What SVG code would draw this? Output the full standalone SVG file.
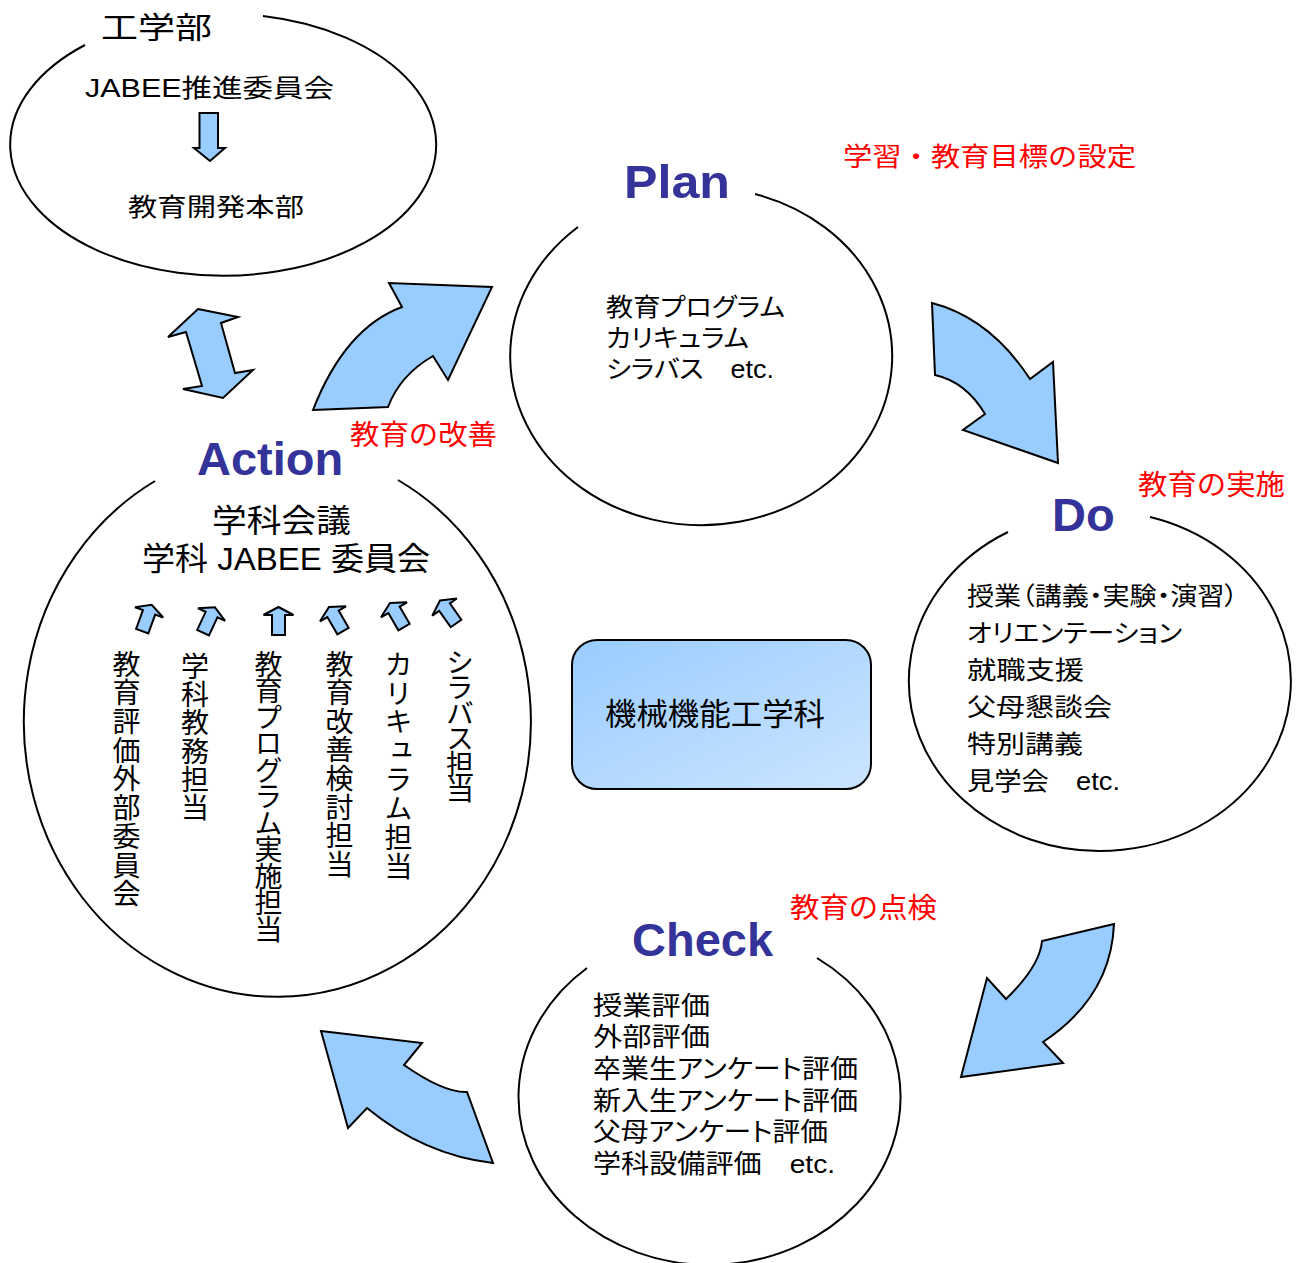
<svg xmlns="http://www.w3.org/2000/svg" width="1296" height="1263" viewBox="0 0 1296 1263">
<style>
.ell{fill:none;stroke:#000;stroke-width:2}
.arr{fill:#99ccff;stroke:#000;stroke-width:2;stroke-linejoin:miter}
.t{font-family:"Liberation Sans","Noto Sans CJK JP",sans-serif;fill:#000;font-feature-settings:"palt"}
.title{font-family:"Liberation Sans",sans-serif;font-weight:bold;fill:#333399;font-size:47px}
.red{fill:#ff0000;font-feature-settings:normal}
.v{font-family:"Noto Sans CJK JP",sans-serif;fill:#000;font-size:28px;writing-mode:vertical-rl}
</style>
<defs>
<linearGradient id="g" x1="0" y1="0" x2="1" y2="1">
<stop offset="0" stop-color="#99ccff"/>
<stop offset="1" stop-color="#cce5ff"/>
</linearGradient>
<path id="sa" d="M0,-14 L15,-6 L6.5,-6 L6.5,14 L-6.5,14 L-6.5,-6 L-15,-6 Z"/>
</defs>
<rect width="1296" height="1263" fill="#fff"/>

<g id="faculty">
<path class="ell" d="M85,45 A213,131 0 1 0 263,16"/>
<text class="t" x="101" y="38" font-size="30" textLength="111" lengthAdjust="spacingAndGlyphs">工学部</text>
<text class="t" x="85" y="97" font-size="25" textLength="249" lengthAdjust="spacingAndGlyphs">JABEE推進委員会</text>
<path class="arr" d="M199.5,113 L218,113 L218,148 L225,148 L210,161 L194,148 L199.5,148 Z"/>
<text class="t" x="128" y="216" font-size="25" textLength="176" lengthAdjust="spacingAndGlyphs">教育開発本部</text>
</g>

<g id="plan">
<path class="ell" d="M578,227 A191,169 0 1 0 755,194"/>
<text class="title" x="624" y="198" font-size="48" textLength="106" lengthAdjust="spacingAndGlyphs">Plan</text>
<text class="t red" x="843" y="166" font-size="26" textLength="293" lengthAdjust="spacingAndGlyphs">学習・教育目標の設定</text>
<text class="t" x="606" y="316" font-size="25" textLength="179" lengthAdjust="spacingAndGlyphs">教育プログラム</text>
<text class="t" x="606" y="347" font-size="25" textLength="143" lengthAdjust="spacingAndGlyphs">カリキュラム</text>
<text class="t" x="606" y="378" font-size="25" textLength="168" lengthAdjust="spacingAndGlyphs">シラバス　etc.</text>
</g>

<g id="do">
<path class="ell" d="M1008,532 A191,170 0 1 0 1150,517"/>
<text class="title" x="1052" y="531">Do</text>
<text class="t red" x="1138" y="495" font-size="28" textLength="147" lengthAdjust="spacingAndGlyphs">教育の実施</text>
<text class="t" x="967" y="605" font-size="25" textLength="271" lengthAdjust="spacingAndGlyphs">授業（講義・実験・演習）</text>
<text class="t" x="967" y="642" font-size="25" textLength="215" lengthAdjust="spacingAndGlyphs">オリエンテーション</text>
<text class="t" x="967" y="679" font-size="25" textLength="117" lengthAdjust="spacingAndGlyphs">就職支援</text>
<text class="t" x="967" y="716" font-size="25" textLength="145" lengthAdjust="spacingAndGlyphs">父母懇談会</text>
<text class="t" x="967" y="753" font-size="25" textLength="116" lengthAdjust="spacingAndGlyphs">特別講義</text>
<text class="t" x="967" y="790" font-size="25" textLength="153" lengthAdjust="spacingAndGlyphs">見学会　etc.</text>
</g>

<g id="check">
<path class="ell" d="M587,968 A191,168 0 1 0 817,958"/>
<text class="title" x="632" y="956">Check</text>
<text class="t red" x="790" y="918" font-size="28" textLength="147" lengthAdjust="spacingAndGlyphs">教育の点検</text>
<text class="t" x="593" y="1015" font-size="26" textLength="117" lengthAdjust="spacingAndGlyphs">授業評価</text>
<text class="t" x="593" y="1046" font-size="26" textLength="117" lengthAdjust="spacingAndGlyphs">外部評価</text>
<text class="t" x="593" y="1078" font-size="26" textLength="265" lengthAdjust="spacingAndGlyphs">卒業生アンケート評価</text>
<text class="t" x="593" y="1110" font-size="26" textLength="265" lengthAdjust="spacingAndGlyphs">新入生アンケート評価</text>
<text class="t" x="593" y="1141" font-size="26" textLength="235" lengthAdjust="spacingAndGlyphs">父母アンケート評価</text>
<text class="t" x="593" y="1173" font-size="26" textLength="242" lengthAdjust="spacingAndGlyphs">学科設備評価　etc.</text>
</g>

<g id="action">
<path class="ell" d="M155,481 A253.5,275 0 1 0 398,480"/>
<text class="title" x="197" y="475">Action</text>
<text class="t red" x="350" y="445" font-size="28" textLength="147" lengthAdjust="spacingAndGlyphs">教育の改善</text>
<text class="t" x="212" y="532" font-size="32" textLength="139" lengthAdjust="spacingAndGlyphs">学科会議</text>
<text class="t" x="142" y="570" font-size="32" textLength="288" lengthAdjust="spacingAndGlyphs">学科 JABEE 委員会</text>
<g class="arr">
<use href="#sa" transform="translate(147,618) rotate(20)"/>
<use href="#sa" transform="translate(209,620) rotate(25)"/>
<use href="#sa" transform="translate(278.5,621)"/>
<use href="#sa" transform="translate(336,619) rotate(-30)"/>
<use href="#sa" transform="translate(397,615) rotate(-30)"/>
<use href="#sa" transform="translate(448,612) rotate(-35)"/>
</g>
<text class="v" x="126.5" y="650" letter-spacing="0.7">教育評価外部委員会</text>
<text class="v" x="195" y="652" letter-spacing="0.3">学科教務担当</text>
<text class="v" x="268.5" y="650" letter-spacing="-1.5">教育プログラム実施担当</text>
<text class="v" x="339.5" y="650" letter-spacing="0.6">教育改善検討担当</text>
<text class="v" x="398.5" y="650" letter-spacing="0.9">カリキュラム担当</text>
<text class="v" x="460" y="648" letter-spacing="-2.5">シラバス担当</text>
</g>

<g id="dept">
<rect x="572" y="640" width="299" height="149" rx="25" ry="25" fill="url(#g)" stroke="#000" stroke-width="2"/>
<text class="t" x="605" y="725" font-size="31" textLength="220" lengthAdjust="spacingAndGlyphs">機械機能工学科</text>
</g>

<g id="connectors">
<path class="arr" d="M313,410 L388,407 Q400,375 433,356 L448,380 L492,287 L389,283 L402,307 Q345,328 313,410 Z"/>
<path class="arr" d="M932,303 Q990,318 1030,379 L1053,362 L1058,463 L963,430 L985,414 Q966,382 935,375 Z"/>
<path class="arr" d="M1114,924 L1042,941 Q1040,966 1006,999 L987,978 L961,1077 L1063,1063 L1043,1042 Q1111,997 1114,924 Z"/>
<path class="arr" d="M321,1031 L422,1043 L404,1065 Q444,1093 467,1092 L493,1163 Q424,1155 367,1108 L348,1128 Z"/>
<path class="arr" d="M198,309 L238,317 L221,323 L235,373 L253,370 L223,398 L183,389 L202,386 L186,332 L168,337 Z"/>
</g>
</svg>
